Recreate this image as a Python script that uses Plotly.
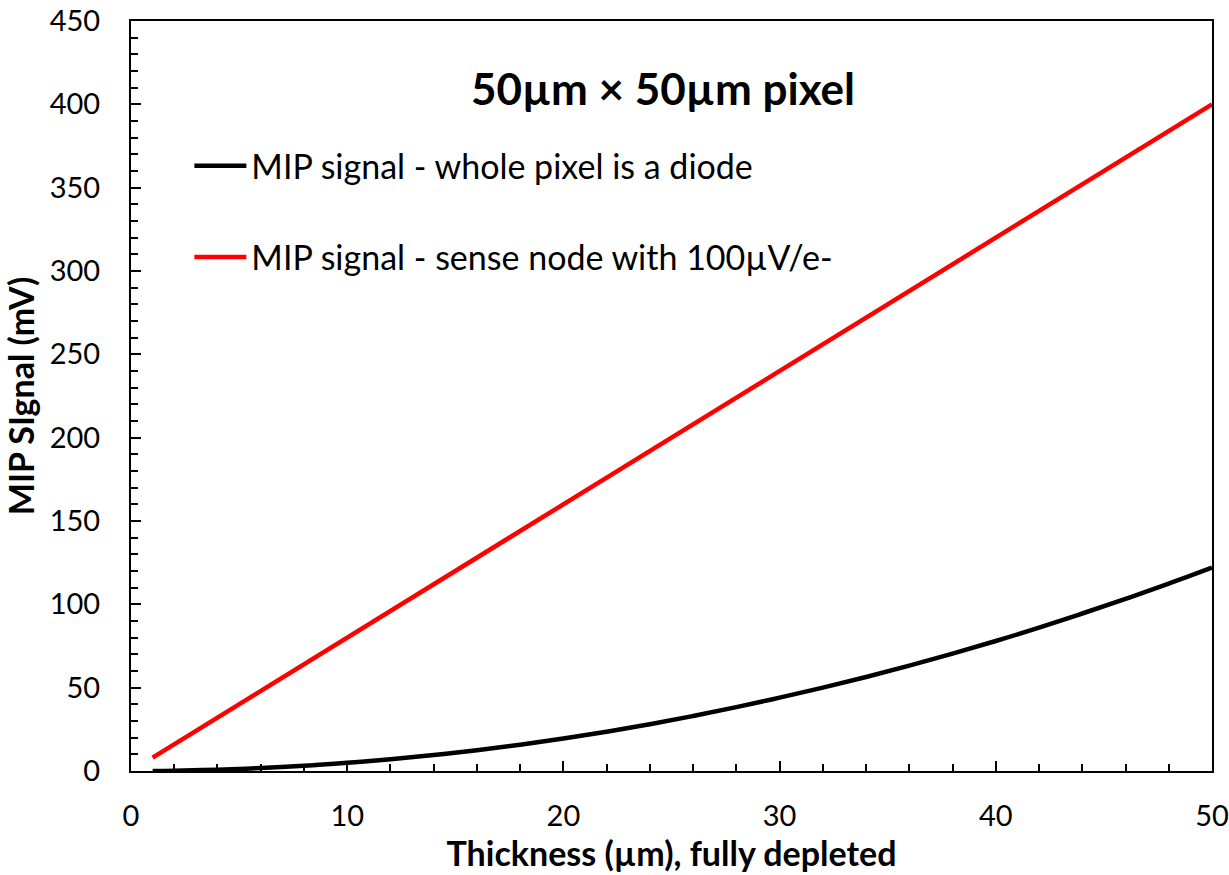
import plotly.graph_objects as go

thickness = [1, 2, 4, 6, 8, 10, 12, 14, 16, 18, 20, 22, 24, 26, 28, 30, 32, 34, 36, 38, 40, 42, 44, 46, 48, 50]
signal_diode = [0.05, 0.2, 0.8, 1.8, 3.1, 4.9, 7.0, 9.6, 12.5, 15.8, 19.5, 23.6, 28.1, 33.0, 38.3, 44.0,
                50.0, 56.4, 63.2, 70.4, 78.0, 86.0, 94.5, 103.3, 112.4, 122.0]
thickness_sense = [1, 10, 20, 30, 40, 50]
signal_sense = [8, 80, 160, 240, 320, 400]

name_diode = "MIP signal - whole pixel is a diode"
name_sense = "MIP signal - sense node with 100µV/e-"
title_text = "<b>50µm × 50µm pixel</b>"
x_title = "<b>Thickness (µm), fully depleted</b>"
y_title = "<b>MIP SIgnal (mV)</b>"

FONT = "Lato, 'Open Sans', sans-serif"

fig = go.Figure()
fig.add_trace(go.Scatter(x=thickness, y=signal_diode, mode="lines", name=name_diode,
                         line=dict(color="black", width=4.5, shape="spline"), legendgroup="a"))
fig.add_trace(go.Scatter(x=thickness_sense, y=signal_sense, mode="lines", name=name_sense,
                         line=dict(color="#ff0000", width=4.5), legendgroup="b"))

axis_common = dict(
    showline=True, linecolor="black", linewidth=2, mirror=True,
    ticks="inside", ticklen=10, tickwidth=2, tickcolor="black",
    showgrid=False, zeroline=False,
    tickfont=dict(family=FONT, size=29, color="black"),
)

fig.update_xaxes(range=[0, 50], dtick=10, tick0=0,
                 minor=dict(dtick=2, ticks="inside", ticklen=7, tickwidth=2, tickcolor="black"),
                 title=dict(text=x_title, font=dict(family=FONT, size=34, color="black"), standoff=4),
                 ticklabelstandoff=18,
                 **axis_common)
fig.update_yaxes(range=[0, 450], dtick=50, tick0=0,
                 minor=dict(dtick=10, ticks="inside", ticklen=7, tickwidth=2, tickcolor="black"),
                 title=dict(text=y_title, font=dict(family=FONT, size=34, color="black"), standoff=10),
                 ticklabelstandoff=23,
                 **axis_common)

fig.add_annotation(x=0.492, y=0.91, xref="paper", yref="paper", text=title_text, showarrow=False,
                   font=dict(family=FONT, size=44, color="black"), xanchor="center", yanchor="middle")

fig.update_layout(
    width=1229, height=875,
    margin=dict(l=131, r=17, t=21, b=104, autoexpand=False),
    paper_bgcolor="white", plot_bgcolor="white",
    showlegend=True,
    legend=dict(x=0.054, y=0.845, xanchor="left", yanchor="top",
                font=dict(family=FONT, size=34, color="black"),
                bgcolor="rgba(0,0,0,0)", tracegroupgap=44, itemwidth=52),
)

fig.write_html("out.html", config={"displayModeBar": False},
               post_script="document.body.style.margin='0';document.body.style.overflow='hidden';")
